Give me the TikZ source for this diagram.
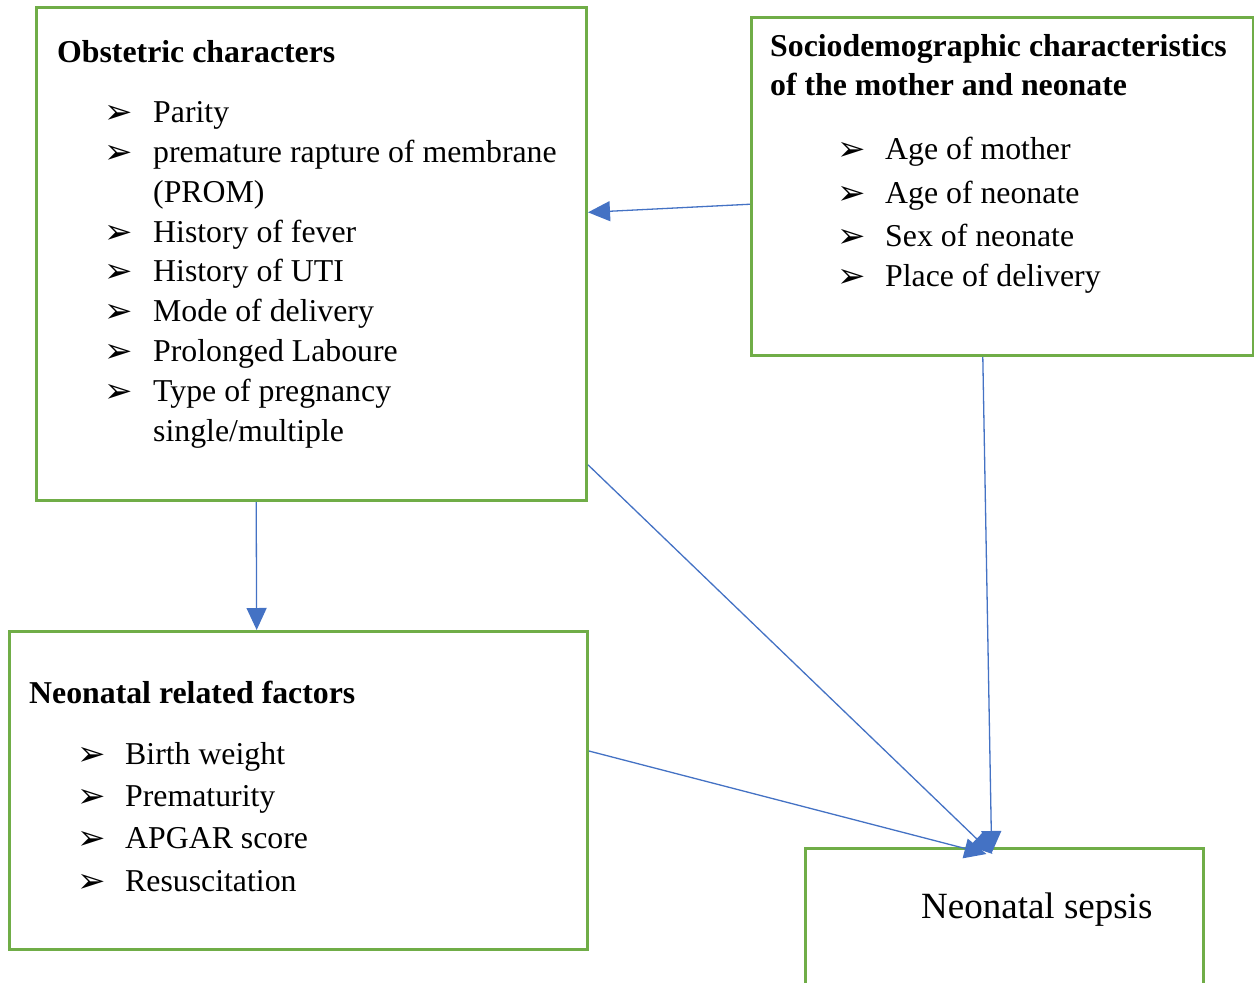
\documentclass[tikz,border=0pt]{standalone}
\usepackage{fontspec}
\setmainfont{Liberation Serif}
\newfontfamily\symfont{DejaVu Sans}
\usetikzlibrary{arrows.meta,calc}
\definecolor{boxgreen}{HTML}{70AD47}
\definecolor{arrowblue}{HTML}{4472C4}
\tikzset{
  box/.style={draw=boxgreen,line width=3pt,anchor=north west,inner sep=0pt},
  txt/.style={anchor=base west,inner sep=0pt,font=\fontsize{31.8}{40}\selectfont},
  ttl/.style={anchor=base west,inner sep=0pt,font=\fontsize{31.8}{40}\selectfont\bfseries},
  bul/.style={anchor=base west,inner sep=0pt,font=\fontsize{34}{40}\symfont},
  conn/.style={draw=arrowblue,line width=1.3pt,-{Triangle[length=22pt,width=20pt]}},
}
\begin{document}
\begin{tikzpicture}[x=1pt,y=-1pt]
\useasboundingbox (0,0) rectangle (1254,983);
% boxes
\node[box,minimum width=550pt,minimum height=493pt] (obs) at (35,6) {};
\node[box,minimum width=502pt,minimum height=338pt] (soc) at (750,16) {};
\node[box,minimum width=578pt,minimum height=318pt] (neo) at (8,630) {};
\node[box,minimum width=398pt,minimum height=160pt] (sep) at (804,847) {};
% obstetric text
\node[ttl] (obsT) at (57,62) {Obstetric characters};
\node[bul] (ob1) at (104,123) {➢};
\node[txt] (o1) at (153,122) {Parity};
\node[bul] (ob2) at (104,163) {➢};
\node[txt] (o2) at (153,162) {premature rapture of membrane};
\node[txt] (o2b) at (153,202) {(PROM)};
\node[bul] (ob3) at (104,243) {➢};
\node[txt] (o3) at (153,242) {History of fever};
\node[bul] (ob4) at (104,282) {➢};
\node[txt] (o4) at (153,281) {History of UTI};
\node[bul] (ob5) at (104,322) {➢};
\node[txt] (o5) at (153,321) {Mode of delivery};
\node[bul] (ob6) at (104,362) {➢};
\node[txt] (o6) at (153,361) {Prolonged Laboure};
\node[bul] (ob7) at (104,402) {➢};
\node[txt] (o7) at (153,401) {Type of pregnancy};
\node[txt] (o7b) at (153,441) {single/multiple};
% socio text
\node[ttl] (socT1) at (770,56) {Sociodemographic characteristics};
\node[ttl] (socT2) at (770,95) {of the mother and neonate};
\node[bul] (sb1) at (837,160) {➢};
\node[txt] (s1) at (885,159) {Age of mother};
\node[bul] (sb2) at (837,204) {➢};
\node[txt] (s2) at (885,203) {Age of neonate};
\node[bul] (sb3) at (837,247) {➢};
\node[txt] (s3) at (885,246) {Sex of neonate};
\node[bul] (sb4) at (837,287) {➢};
\node[txt] (s4) at (885,286) {Place of delivery};
% neonatal related text
\node[ttl] (neoT) at (29,703) {Neonatal related factors};
\node[bul] (nb1) at (77,765) {➢};
\node[txt] (n1) at (125,764) {Birth weight};
\node[bul] (nb2) at (77,807) {➢};
\node[txt] (n2) at (125,806) {Prematurity};
\node[bul] (nb3) at (77,849) {➢};
\node[txt] (n3) at (125,848) {APGAR score};
\node[bul] (nb4) at (77,892) {➢};
\node[txt] (n4) at (125,891) {Resuscitation};
% sepsis text
\node[anchor=base west,inner sep=0pt,font=\fontsize{37}{44}\selectfont] (sepT) at (921,918) {Neonatal sepsis};
% connectors
\draw[conn] ($(soc.north west)!0.552!(soc.south west)$) -- ($(obs.north east)!0.416!(obs.south east)$);
\draw[conn] ($(obs.south west)!0.4!(obs.south east)$) -- ($(neo.north west)!0.428!(neo.north east)$);
\draw[conn] ($(obs.north east)!0.925!(obs.south east)$) -- ($(sep.north west)!0.47!(sep.north east)+(0,7)$);
\draw[conn] ($(neo.north east)!0.377!(neo.south east)$) -- ($(sep.north west)!0.455!(sep.north east)+(0,7)$);
\draw[conn] ($(soc.south west)!0.461!(soc.south east)$) -- ($(sep.north west)!0.468!(sep.north east)+(0,6)$);
\end{tikzpicture}
\end{document}
